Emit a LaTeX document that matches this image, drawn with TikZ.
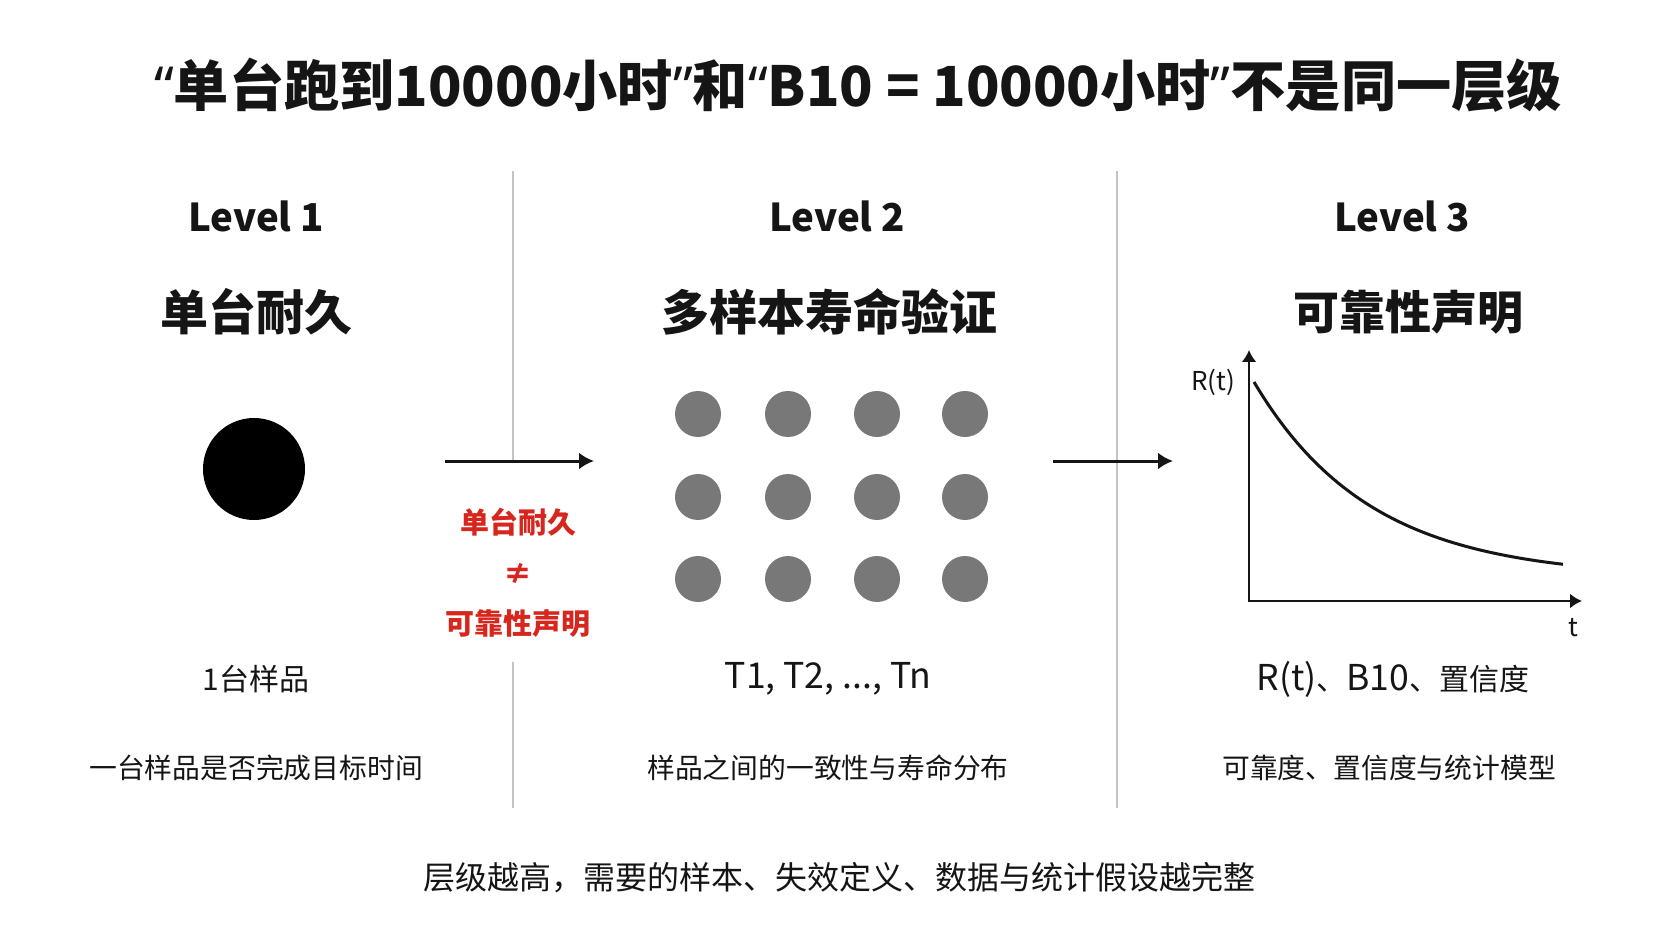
\documentclass[tikz,border=0pt]{standalone}
\usepackage{fontspec}
\setmainfont{Noto Sans CJK SC}
\newfontfamily\quotefont{Noto Sans}
\usetikzlibrary{arrows.meta,positioning}
\definecolor{ink}{HTML}{151515}
\definecolor{warn}{HTML}{D7261E}
\definecolor{dotgray}{HTML}{787878}
\definecolor{rulegray}{HTML}{C4C4C4}
\newcommand\qo{{\quotefont “}}
\newcommand\qc{{\quotefont ”}}
\newcommand\wlat[1]{{\fontsize{17.8}{20}\selectfont #1}}

\begin{document}
\begin{tikzpicture}[x=0.5pt,y=-0.5pt,>={Latex[length=7.5pt,width=8.5pt]},auto,node distance=48pt,
  title/.style={font=\bfseries\fontsize{27.6}{32}\selectfont,text=ink},
  level/.style={font=\bfseries\fontsize{19.2}{24}\selectfont,text=ink},
  heading/.style={font=\bfseries\fontsize{24}{28}\selectfont,text=ink},
  caption/.style={font=\fontsize{15}{18}\selectfont,text=ink},
  note/.style={font=\fontsize{13.9}{16}\selectfont,text=ink},
  redtext/.style={font=\bfseries\fontsize{14.5}{17}\selectfont,text=warn},
  bigdot/.style={circle,fill=black,inner sep=0pt,minimum size=51pt},
  sample/.style={circle,fill=dotgray,inner sep=0pt,minimum size=23pt},
  divider/.style={rulegray,line width=0.8pt},
  flow/.style={->,ink,line width=1.5pt}]

\useasboundingbox[fill=white] (0,0) rectangle (1672,941);

\node[title]   (title)  at (858,85)   {\qo 单台跑到10000小时\qc 和\qo B10 = 10000小时\qc 不是同一层级};

\node[level]   (l1)     at (256,216)  {Level 1};
\node[level]   (l2)     at (837,216)  {Level 2};
\node[level]   (l3)     at (1402,216) {Level 3};

\node[heading] (h1)[below of=l1]             {单台耐久};
\node[heading] (h2)[below of=l2,xshift=-4pt] {多样本寿命验证};
\node[heading,font=\bfseries\fontsize{23}{28}\selectfont] (h3)[below of=l3,xshift=3pt] {可靠性声明};

\node[bigdot]  (one)    at (254,469)  {};
\foreach \c [count=\i] in {698,788,877,965}
  \foreach \r [count=\j] in {414,497,579}
    \node[sample] (d\i\j) at (\c,\r) {};

\node[caption] (c1)     at (256,679)  {1台样品};
\node[caption] (c2)     at (828,679)  {\wlat{T1, T2, ..., Tn}};
\node[caption] (c3)     at (1393,679) {\wlat{R(t)}、\wlat{B10}、置信度};

\node[note]    (n1)[below of=c1,node distance=44.5pt] {一台样品是否完成目标时间};
\node[note]    (n2)[below of=c2,node distance=44.5pt] {样品之间的一致性与寿命分布};
\node[note]    (n3)[below of=c3,node distance=44.5pt,xshift=-2pt] {可靠度、置信度与统计模型};

\node[font=\fontsize{16}{20}\selectfont,text=ink] (foot) at (839,878)
  {层级越高，需要的样本、失效定义、数据与统计假设越完整};

% dividers
\coordinate (v1top) at (513,171);
\coordinate (v1a)   at (513,462);
\coordinate (v1b)   at (513,662);
\coordinate (v1bot) at (513,808);
\coordinate (v2top) at (1117,171);
\coordinate (v2bot) at (1117,808);
\draw[divider] (v1top) -- (v1a) (v1b) -- (v1bot);
\draw[divider] (v2top) -- (v2bot);

% arrows between levels
\coordinate (a1s) at (445,461);
\coordinate (a1e) at (594,461);
\coordinate (a2s) at (1053,461);
\coordinate (a2e) at (1173,461);
\draw[flow] (a1s) -- (a1e);
\draw[flow] (a2s) -- (a2e);

\node[redtext] (neq)    at (518,574)  {≠};
\node[redtext] (ra)[above of=neq,node distance=26pt] {单台耐久};
\node[redtext] (rb)[below of=neq,node distance=25pt] {可靠性声明};

% reliability curve
\coordinate (o)    at (1249,601);
\coordinate (ytop) at (1249,350);
\coordinate (xend) at (1582,601);
\draw[{Latex[length=6pt,width=7.5pt]}-{Latex[length=6pt,width=7.5pt]},ink,line width=1.4pt]
  (ytop) -- (o) -- (xend);
\draw[ink,line width=1.5pt] plot[domain=1254:1563,samples=60,smooth]
  (\x,{578-196*exp(-0.0086*(\x-1254))});
\node[font=\fontsize{13}{16}\selectfont,text=ink] (rt) at (1213,382) {R(t)};
\node[font=\fontsize{13}{16}\selectfont,text=ink] (tt) at (1573,628) {t};

\end{tikzpicture}
\end{document}
